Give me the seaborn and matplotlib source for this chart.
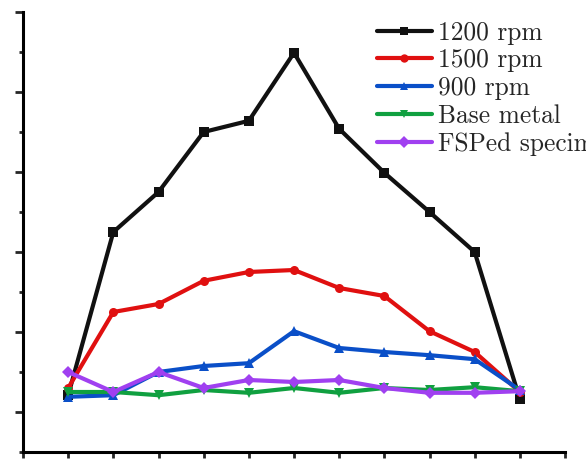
import matplotlib
matplotlib.use('Agg')
import matplotlib.pyplot as plt
import seaborn as sns
import pandas as pd
from matplotlib.ticker import MultipleLocator

# Posições ao longo da amostra (11 pontos)
positions = [1, 2, 3, 4, 5, 6, 7, 8, 9, 10, 11]

# Valores (unidades arbitrárias)
rpm_1200 = [64.2, 105, 115, 130, 132.8, 149.8, 130.8, 119.8, 110, 100, 63.2]
rpm_1500 = [66, 85, 87, 92.8, 95, 95.5, 91, 89, 80.2, 75, 65]
rpm_900 = [63.8, 64.2, 70, 71.5, 72.2, 80.2, 76, 75, 74.2, 73.2, 65.5]
base_metal = [65, 65, 64.2, 65.5, 64.8, 66, 64.8, 66, 65.5, 66.2, 65.2]
fsped = [70, 65, 70, 66, 68, 67.5, 68, 66, 64.8, 64.8, 65.2]

labels = ['1200 rpm', '1500 rpm', '900 rpm', 'Base metal', 'FSPed specimen']
series = [rpm_1200, rpm_1500, rpm_900, base_metal, fsped]
colors = ['#111111', '#e01010', '#0a4fc8', '#10a040', '#a040f0']
markers = ['s', 'o', '^', 'v', 'D']

df = pd.concat([pd.DataFrame({'pos': positions, 'value': s, 'serie': l})
                for s, l in zip(series, labels)])

sns.set_style('white')

fig = plt.figure(figsize=(5.86, 4.62), dpi=100)
ax = fig.add_axes([23 / 586, 10 / 462, 542 / 586, 440 / 462])

for lab, col, mk in zip(labels, colors, markers):
    sub = df[df['serie'] == lab]
    sns.lineplot(data=sub, x='pos', y='value', ax=ax, color=col, marker=mk,
                 markersize=6.5, linewidth=3, markeredgewidth=0, label=lab)

ax.set_xlim(0, 12)
ax.set_ylim(50, 160)
ax.xaxis.set_major_locator(MultipleLocator(1))
ax.yaxis.set_major_locator(MultipleLocator(20))
ax.yaxis.set_minor_locator(MultipleLocator(10))
ax.set_xticklabels([])
ax.set_yticklabels([])
ax.set_xlabel('')
ax.set_ylabel('')

for side in ['top', 'right']:
    ax.spines[side].set_visible(False)
for side in ['left', 'bottom']:
    ax.spines[side].set_linewidth(2.2)
    ax.spines[side].set_color('black')

ax.tick_params(axis='y', which='major', direction='out', length=6, width=2, left=True)
ax.tick_params(axis='y', which='minor', direction='out', length=3, width=2, left=True)
ax.tick_params(axis='x', which='major', direction='out', length=4, width=2, bottom=True)

# Legenda sem moldura; o último rótulo sai pela borda como na figura original
leg = ax.legend(loc='upper left', bbox_to_anchor=(377 / 586, 0.955), bbox_transform=fig.transFigure,
                frameon=False, handlelength=2.15, handletextpad=0.25, labelspacing=0.16,
                borderaxespad=0, borderpad=0, prop={'family': 'cmr10', 'size': 18.3})
for h in leg.legend_handles:
    h.set_markersize(6)

fig.savefig('out.png', dpi=100)
